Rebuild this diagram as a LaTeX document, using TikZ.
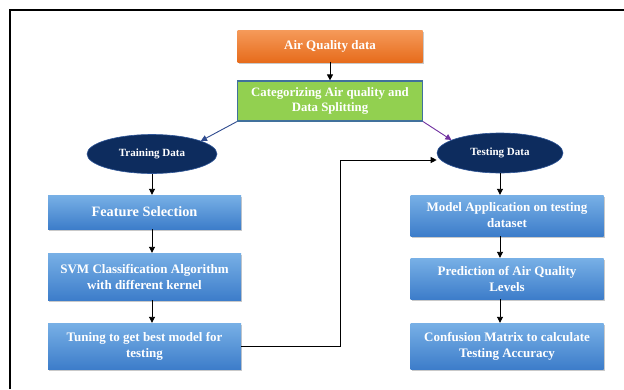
\documentclass[tikz,border=0pt]{standalone}
\usepackage{fontspec}
\setmainfont{Liberation Serif}
\usetikzlibrary{arrows.meta,shapes.geometric,shadows,positioning}
\definecolor{boxtop}{HTML}{78B0E6}
\definecolor{boxbot}{HTML}{3D7DCA}
\definecolor{oratop}{HTML}{F59A5A}
\definecolor{orabot}{HTML}{E76C1C}
\definecolor{grn}{HTML}{92D050}
\definecolor{grnborder}{HTML}{41719C}
\definecolor{navy}{HTML}{0D2C5E}
\definecolor{navyedge}{HTML}{2E5597}
\definecolor{arrblue}{HTML}{2F4B8F}
\definecolor{arrpurple}{HTML}{7030A0}
\begin{document}
\begin{tikzpicture}[x=1pt,y=-1pt,
  bluebox/.style={rectangle, top color=boxtop, bottom color=boxbot, draw=none,
    text=white, font=\bfseries\fontsize{13}{16}\selectfont, align=center,
    minimum width=193pt, inner sep=2pt,
    drop shadow={shadow xshift=1pt, shadow yshift=-1.5pt, opacity=0.35, fill=black!60}},
  orabox/.style={rectangle, top color=oratop, bottom color=orabot, draw=none,
    text=white, font=\bfseries\fontsize{13}{15}\selectfont, align=center,
    minimum width=185pt, minimum height=32pt,
    drop shadow={shadow xshift=1pt, shadow yshift=-1.5pt, opacity=0.35, fill=black!60}},
  grnbox/.style={rectangle, fill=grn, draw=grnborder, line width=1.2pt,
    text=white, font=\bfseries\fontsize{12.8}{15.5}\selectfont, align=center,
    minimum width=185pt, minimum height=40pt, inner sep=1pt},
  oval/.style={ellipse, fill=navy, draw=navyedge, line width=0.6pt,
    text=white, font=\bfseries\fontsize{11}{13}\selectfont,
    minimum width=130pt, minimum height=39pt, inner sep=0pt},
  flow/.style={-{Triangle[length=6pt,width=6pt]}, line width=0.9pt, black},
]
\useasboundingbox (0,0) rectangle (624,389);
\fill[white] (0,0) rectangle (624,389);
\draw[line width=2.3pt] (10,389) -- (10,10) -- (624,10);

\node[orabox] (aq) at (330,46) {Air Quality data};
\node[grnbox] (cat) at (330,101) {Categorizing Air quality and\\Data Splitting};
\node[oval] (train) at (152,154) {Training Data};
\node[oval, minimum width=126pt, minimum height=40pt] (test) at (500,153) {Testing Data};

\node[bluebox, minimum height=34pt, font=\bfseries\fontsize{14.3}{16}\selectfont] (feat) at (144.5,212) {Feature Selection};
\node[bluebox, minimum height=47pt] (svm) at (144.5,276.5) {SVM Classification Algorithm\\with different kernel};
\node[bluebox, minimum height=46pt] (tune) at (144.5,346) {Tuning to get best model for\\testing};

\node[bluebox, minimum height=41pt] (model) at (507,215.5) {Model Application on testing\\dataset};
\node[bluebox, minimum height=41pt] (pred) at (507,278.5) {Prediction of Air Quality\\Levels};
\node[bluebox, minimum height=46pt] (conf) at (507,346) {Confusion Matrix to calculate\\Testing Accuracy};

\draw[flow] (aq) -- (cat);
\draw[-{Triangle[length=6pt,width=6pt]}, line width=0.9pt, arrblue] (cat.south west) -- (train.15);
\draw[-{Triangle[length=6pt,width=6pt]}, line width=0.9pt, arrpurple] (cat.south east) -- (test.165);
\draw[flow] (train) -- (train.south |- feat.north);
\draw[flow] (feat.south -| train) -- (svm.north -| train);
\draw[flow] (svm.south -| train) -- (tune.north -| train);
\draw[flow] (test) -- (test.south |- model.north);
\draw[flow] (model.south -| test) -- (pred.north -| test);
\draw[flow] (pred.south -| test) -- (conf.north -| test);
\coordinate (bend) at (340,160);
\draw[flow] (tune.east) -| (bend) -- (bend -| test.west);
\end{tikzpicture}
\end{document}
